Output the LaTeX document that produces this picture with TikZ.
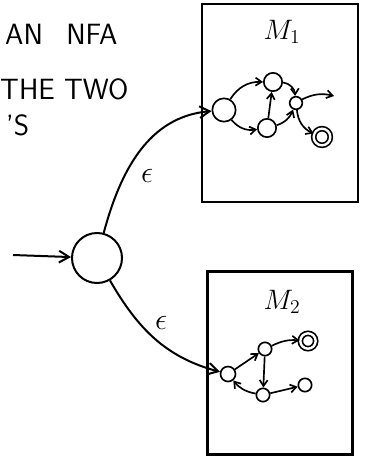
\RequirePackage{fix-cm}
\documentclass[tikz,border=0pt]{standalone}
\usepackage{fontspec}
\usetikzlibrary{arrows.meta,positioning}

\begin{document}
\begin{tikzpicture}[
  x=0.3mm, y=-0.3mm,
  font=\sffamily,
  >={Straight Barb[length=3mm,width=3.5mm]},
  note/.style={font=\sffamily\fontsize{25}{30}\selectfont, anchor=west, inner sep=0pt},
  mlabel/.style={font=\fontsize{24}{28}\selectfont},
  eps/.style={font=\fontsize{26}{30}\selectfont},
  bigstate/.style={draw, circle, line width=0.6mm, minimum size=15mm, inner sep=0pt},
  machine/.style={draw, line width=0.8mm, inner sep=0pt},
  state/.style={draw, circle, line width=0.5mm, inner sep=0pt},
  accept/.style={state, double, double distance=0.7mm},
  edge/.style={->, line width=0.6mm},
  tiny/.style={->, line width=0.5mm, >={Straight Barb[length=1.8mm,width=2.4mm]}}
]
\useasboundingbox (0,0) rectangle (368,465);

% the text at the top left
\node[note] (l1) at (5,34) {AN\hspace{7mm}NFA};
\node[note] (l2) at (0,89) {THE TWO};
\node[note] (l3) at (6,125) {'S};

% new start state
\coordinate (in) at (13,255);
\node[bigstate] (s0) at (97,258) {};
\draw[edge] (in) -- (s0);

% machine M1
\node[machine, minimum width=46.8mm, minimum height=59.4mm] (m1) at (280,103) {};
\node[mlabel] (m1lab) at (282,32) {$M_1$};
\node[state, minimum size=7mm] (a1) at (224,110) {};
\node[state, minimum size=5.5mm] (b1) at (273,82) {};
\node[state, minimum size=5.5mm] (c1) at (267,128) {};
\node[state, minimum size=3.8mm] (d1) at (296,103) {};
\node[accept, minimum size=5mm] (f1) at (322,137) {};
\coordinate (o1) at (334,96);

\draw[tiny] (a1) to[bend left=30] (b1);
\draw[tiny] (a1) to[bend right=30] (c1);
\draw[tiny] (c1) -- (b1);
\draw[tiny] (b1) to[bend left=40] (d1);
\draw[tiny] (c1) to[bend right=25] (d1);
\draw[tiny] (d1) to[bend left=20] (o1);
\draw[tiny] (d1) to[bend right=30] (f1);

% machine M2
\node[machine, minimum width=43.5mm, minimum height=54.9mm] (m2) at (280,363) {};
\node[mlabel] (m2lab) at (282,302) {$M_2$};
\node[state, minimum size=4.5mm] (p2) at (228,374) {};
\node[state, minimum size=4mm] (q2) at (265,349) {};
\node[accept, minimum size=4.6mm] (r2) at (308,341) {};
\node[state, minimum size=4mm] (s2) at (263,395) {};
\node[state, minimum size=4mm] (t2) at (305,385) {};

\draw[tiny] (p2) -- (q2);
\draw[tiny] (q2) to[bend left=15] (r2);
\draw[tiny] (q2) -- (s2);
\draw[tiny] (s2) to[bend left=20] (p2);
\draw[tiny] (s2) -- (t2);

% epsilon moves into both machines
\draw[edge] (s0) to[out=75, in=185] node[eps, pos=0.33, right=3.5mm] {$\epsilon$} (a1);
\draw[edge] (s0) to[out=-60, in=165] node[eps, pos=0.45, above right] {$\epsilon$} (p2);

\end{tikzpicture}
\end{document}
